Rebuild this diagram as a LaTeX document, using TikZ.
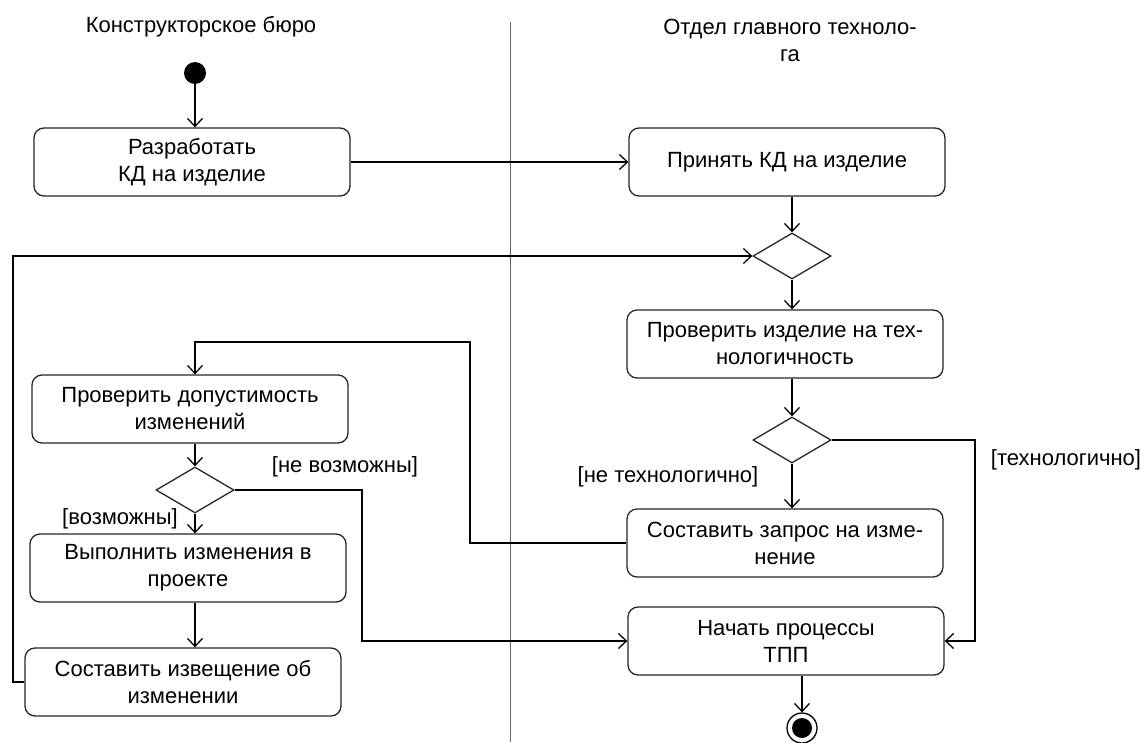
\documentclass[tikz,border=0pt]{standalone}
\usepackage{fontspec}
\setmainfont{Liberation Sans}
\usetikzlibrary{%
  shapes.geometric,%
  positioning,%
  arrows.meta%
}

\begin{document}
\begin{tikzpicture}[
      x=1pt, y=-1pt,
      every node/.style={font=\fontsize{22}{27}\selectfont},
      every text node part/.style={align=center},
      activity/.style={
        rectangle,
        rounded corners=10pt,
        draw=black!85,
        line width=1.3pt,
        minimum width=316pt,
        minimum height=68pt
      },
      decision/.style={
        diamond,
        draw=black!85,
        line width=1.3pt,
        minimum width=78pt,
        minimum height=46pt,
        inner sep=0pt
      },
      startstate/.style={
        circle,
        fill=black,
        minimum size=22pt,
        inner sep=0pt
      },
      endstate/.style={
        circle,
        draw,
        line width=1.3pt,
        minimum size=30pt,
        inner sep=0pt,
        path picture={\fill (path picture bounding box.center) circle (10pt);}
      },
      guard/.style={inner sep=1pt},
      lane/.style={draw=black!60, line width=1pt},
      flow/.style={
        ->,
        >={Straight Barb[length=8pt,width=15pt]},
        line width=1.3pt
      }
    ]
    \useasboundingbox (0,0) rectangle (1148,742);

    % swimlanes
    \node (kb) at (201,27) {Конструкторское бюро};
    \node (ogt) at (790,40) {Отдел главного техноло-\\га};
    \draw[lane] (510,22) -- (510,742);

    % left lane
    \node[startstate]
      (start) at (195,73) {};

    \node[activity]
      (develop) at (192,162)
      {Разработать\\КД на изделие};

    \node[activity]
      (checkChange) at (190,409)
      {Проверить допустимость\\изменений};

    \node[decision]
      (possible) at (195,490) {};

    \node[activity]
      (doChange) at (188,568)
      {Выполнить изменения в\\проекте};

    \node[activity]
      (notice) at (183,682)
      {Составить извещение об\\изменении};

    % right lane
    \node[activity]
      (accept) at (787,162)
      {Принять КД на изделие};

    \node[decision]
      (merge) at (792,256) {};

    \node[activity]
      (checkTech) at (785,344)
      {Проверить изделие на тех-\\нологичность};

    \node[decision]
      (techOk) at (792,440) {};

    \node[activity]
      (request) at (785,543)
      {Составить запрос на изме-\\нение};

    \node[activity]
      (startTpp) at (786,641)
      {Начать процессы\\ТПП};

    \node[endstate]
      (finish) at (802,728) {};

    % guards
    \node[guard] (gNotTech) at (668,477) {[не технологично]};
    \node[guard] (gTech) at (1066,460) {[технологично]};
    \node[guard] (gNotPossible) at (345,467) {[не возможны]};
    \node[guard] (gPossible) at (120,519) {[возможны]};

    % bends
    \coordinate (bendReq) at (470,342);
    \coordinate (bendTech) at (975,500);
    \coordinate (bendNot) at (362,560);
    \coordinate (bendBack) at (13,450);

    \draw[flow] (start) -- (start |- develop.north);
    \draw[flow] (develop) -- (accept);
    \draw[flow] (merge |- accept.south) -- (merge.north);
    \draw[flow] (merge.south) -- (merge |- checkTech.north);
    \draw[flow] (merge |- checkTech.south) -- (techOk.north);
    \draw[flow] (techOk.south) -- (techOk |- request.north);
    \draw[flow] (techOk.east) -| (bendTech) |- (startTpp.east);
    \draw[flow] (request.west) -| (bendReq) -| (possible |- checkChange.north);
    \draw[flow] (possible |- checkChange.south) -- (possible.north);
    \draw[flow] (possible.south) -- (possible |- doChange.north);
    \draw[flow] (possible.east) -| (bendNot) |- (startTpp.west);
    \draw[flow] (possible |- doChange.south) -- (possible |- notice.north);
    \draw[flow] (notice.west) -| (bendBack) |- (merge.west);
    \draw[flow] (finish |- startTpp.south) -- (finish.north);
  \end{tikzpicture}
\end{document}
